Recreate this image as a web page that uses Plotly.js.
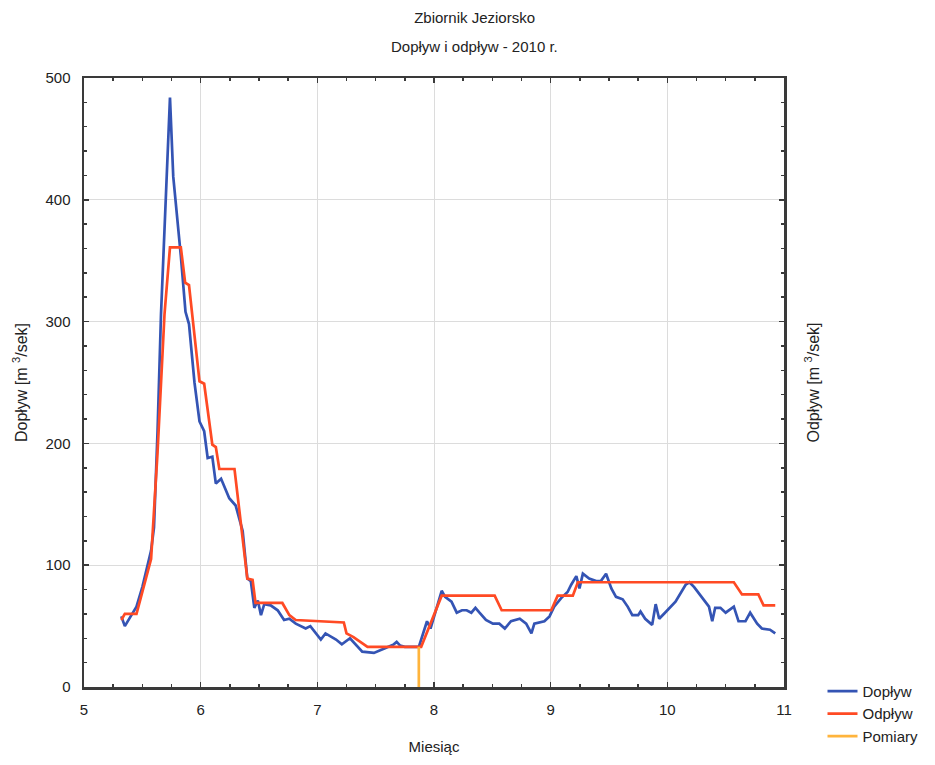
<!DOCTYPE html>
<html>
<head>
<meta charset="utf-8">
<script src="https://cdn.plot.ly/plotly-3.0.1.min.js"></script>
<style>html,body{margin:0;padding:0;background:#fff;}#chart{width:935px;height:765px;}</style>
</head>
<body>
<div id="chart"></div>
<script>
// Dopływ (inflow) – month (decimal) and value [m3/s]
const doplywX = [5.32,5.35,5.40,5.45,5.50,5.575,5.60,5.63,5.66,5.70,5.737,5.765,5.80,5.83,5.87,5.90,5.947,5.99,6.03,6.06,6.10,6.13,6.175,6.245,6.30,6.36,6.40,6.43,6.46,6.49,6.517,6.545,6.60,6.66,6.715,6.76,6.815,6.86,6.90,6.94,6.997,7.03,7.07,7.16,7.21,7.28,7.385,7.485,7.585,7.655,7.68,7.71,7.75,7.87,7.94,7.97,8.066,8.095,8.15,8.195,8.24,8.28,8.32,8.355,8.39,8.445,8.505,8.56,8.607,8.66,8.735,8.79,8.835,8.86,8.946,8.99,9.03,9.09,9.145,9.176,9.22,9.247,9.276,9.33,9.39,9.43,9.475,9.52,9.56,9.617,9.66,9.70,9.75,9.77,9.81,9.87,9.90,9.93,9.98,10.07,10.157,10.19,10.23,10.30,10.357,10.385,10.41,10.455,10.50,10.57,10.61,10.67,10.71,10.77,10.81,10.88,10.925];
const doplywY = [58,50,58,66,82,112,131,209,306,403,484,419,387,354,308,298,250,218,210,188,189,167,171,155,149,128,89,87,65,71,59,68,67,63,55,56,52,50,48,50,43,39,44,39,35,40,29,28,32,35,37,34,33,33,54,48,79,74,70,61,63,63,61,65,61,55,52,52,48,54,56,52,44,52,54,58,66,73,78,84,91,81,93,89,87,87,93,81,74,72,66,59,59,62,56,51,68,56,61,70,84,86,82,73,66,54,65,65,61,66,54,54,61,52,48,47,44];

// Odpływ (outflow)
const odplywX = [5.32,5.35,5.45,5.575,5.63,5.69,5.737,5.83,5.867,5.90,5.99,6.03,6.10,6.13,6.16,6.29,6.40,6.445,6.47,6.70,6.76,6.815,7.227,7.25,7.31,7.37,7.43,7.87,7.89,8.066,8.52,8.58,9.005,9.06,9.19,9.233,10.57,10.64,10.78,10.825,10.925];
const odplywY = [55,60,60,105,192,306,361,361,332,330,251,249,199,197,179,179,89,88,69,69,59,55,53,44,41,37,33,33,33,75,75,63,63,75,75,86,86,76,76,67,67];

// Pomiary (measurement marker)
const pomiaryX = [7.87,7.87];
const pomiaryY = [0,33];

const xTicks = [5,6,7,8,9,10,11];
const yTicks = [0,100,200,300,400,500];

const FONT = '"Liberation Sans", Arial, sans-serif';

const traces = [
  {x: doplywX, y: doplywY, type:'scatter', mode:'lines', name:'Dopływ',
   line:{color:'#3454b4', width:2.7}, legendgroup:'a'},
  {x: odplywX, y: odplywY, type:'scatter', mode:'lines', name:'Odpływ',
   line:{color:'#ff4a24', width:2.7}, legendgroup:'b'},
  {x: pomiaryX, y: pomiaryY, type:'scatter', mode:'lines', name:'Pomiary',
   line:{color:'#ffb43c', width:2.7}, legendgroup:'c'}
];

const axisCommon = {
  showline:true, linecolor:'#3a3a3a', linewidth:2.5, mirror:'ticks',
  ticks:'inside', ticklen:5, tickwidth:1.5, tickcolor:'#3a3a3a',
  showgrid:true, gridcolor:'#dcdcdc', gridwidth:1, zeroline:false,
  tickfont:{family:FONT, size:15, color:'#222'}
};

const layout = {
  width:935, height:765,
  margin:{l:84, r:148, t:78, b:76},
  paper_bgcolor:'#fff', plot_bgcolor:'#fff',
  font:{family:FONT, color:'#222'},
  title:{text:'Zbiornik Jeziorsko', font:{family:FONT, size:15, color:'#222'},
         x:0.558, xanchor:'center', xref:'paper', y:0.977, yanchor:'middle', yref:'container'},
  xaxis: Object.assign({}, axisCommon, {
    range:[5,11], tickvals:xTicks, ticktext:xTicks.map(String),
    minor:{dtick:0.25, ticklen:3, tickcolor:'#3a3a3a', showgrid:false, ticks:'inside'},
    ticklabelstandoff:7,
    title:{text:'Miesiąc', font:{family:FONT, size:15, color:'#222'}, standoff:25}
  }),
  yaxis: Object.assign({}, axisCommon, {
    range:[0,500], tickvals:yTicks, ticktext:yTicks.map(String),
    minor:{dtick:20, ticklen:3, tickcolor:'#3a3a3a', showgrid:false, ticks:'inside'},
    ticklabelstandoff:8,
    title:{text:'Dopływ [m <sup>3</sup>/sek]', font:{family:FONT, size:16, color:'#222'}, standoff:14}
  }),
  showlegend:true,
  legend:{x:1.055, xanchor:'left', y:0.02, yanchor:'top', bgcolor:'rgba(0,0,0,0)',
          font:{family:FONT, size:15, color:'#222'}, traceorder:'normal'},
  annotations:[
    {text:'Dopływ i odpływ - 2010 r.', xref:'paper', yref:'paper', x:0.558, y:1.0,
     yshift:32, showarrow:false, xanchor:'center', yanchor:'middle',
     font:{family:FONT, size:15, color:'#222'}},
    {text:'Odpływ [m <sup>3</sup>/sek]', xref:'paper', yref:'paper', x:1.04, y:0.5,
     textangle:-90, showarrow:false, xanchor:'center', yanchor:'middle',
     font:{family:FONT, size:16, color:'#222'}}
  ]
};

Plotly.newPlot('chart', traces, layout, {displayModeBar:false, staticPlot:true});
</script>
</body>
</html>
